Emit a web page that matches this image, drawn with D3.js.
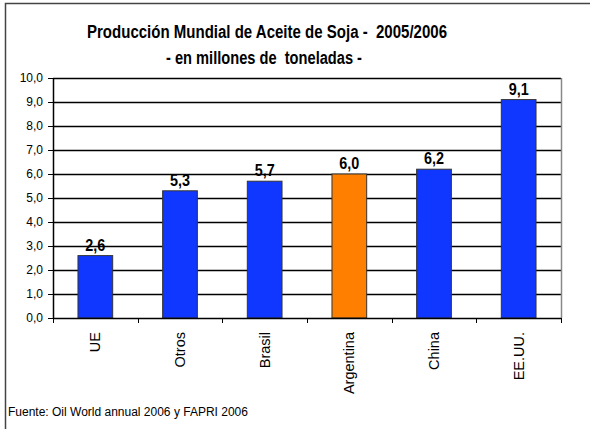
<!DOCTYPE html>
<html>
<head>
<meta charset="utf-8">
<script src="https://cdn.jsdelivr.net/npm/d3@7"></script>
<style>
  body { margin: 0; background: #fff; }
  svg { display: block; font-family: "Liberation Sans", Arial, sans-serif; }
  text { white-space: pre; }
</style>
</head>
<body>
<script>
// data
var categories = ["UE", "Otros", "Brasil", "Argentina", "China", "EE.UU."];
var values = [2.6, 5.3, 5.7, 6.0, 6.2, 9.1];
var highlight = "Argentina";
var yTicks = [0, 1, 2, 3, 4, 5, 6, 7, 8, 9, 10];

var W = 590, H = 429;
var margin = { top: 78, right: 29, bottom: 111, left: 53 },
    width = W - margin.left - margin.right,
    height = H - margin.top - margin.bottom;

var svg = d3.select("body").append("svg")
    .attr("width", W)
    .attr("height", H);

// outer frame (only left/top visible)
svg.append("path")
    .attr("d", "M5.5,429 V3.5 H590")
    .attr("fill", "none")
    .attr("stroke", "#444")
    .attr("stroke-width", 1.5);

// titles
svg.append("text")
    .attr("x", 87).attr("y", 38)
    .attr("textLength", 360).attr("lengthAdjust", "spacingAndGlyphs")
    .style("font-weight", "bold").style("font-size", "17.5px")
    .text("Producción Mundial de Aceite de Soja -  2005/2006");
svg.append("text")
    .attr("x", 166).attr("y", 64)
    .attr("textLength", 196).attr("lengthAdjust", "spacingAndGlyphs")
    .style("font-weight", "bold").style("font-size", "17.5px")
    .text("- en millones de  toneladas -");

var g = svg.append("g")
    .attr("transform", "translate(" + margin.left + "," + margin.top + ")");

var x = d3.scaleBand()
    .domain(categories)
    .range([0, width])
    .paddingInner(0.59)
    .paddingOuter(0.295);

var y = d3.scaleLinear()
    .domain([0, 10])
    .range([height, 0]);

// gridlines
g.append("g")
  .selectAll("line")
  .data(yTicks.slice(1))
  .enter().append("line")
    .attr("x1", 0).attr("x2", width)
    .attr("y1", function(d) { return Math.round(y(d)) + 0.5; })
    .attr("y2", function(d) { return Math.round(y(d)) + 0.5; })
    .attr("stroke", "#000")
    .attr("stroke-width", 1.5);

// right border of plot
g.append("line")
    .attr("x1", width + 0.5).attr("x2", width + 0.5)
    .attr("y1", 0).attr("y2", height)
    .attr("stroke", "#888").attr("stroke-width", 1.5);

// bars
g.selectAll("rect.bar")
  .data(categories)
  .enter().append("rect")
    .attr("class", "bar")
    .attr("x", function(d) { return x(d); })
    .attr("y", function(d, i) { return y(values[i]); })
    .attr("width", x.bandwidth())
    .attr("height", function(d, i) { return height - y(values[i]); })
    .attr("fill", function(d) { return d === highlight ? "#FF8000" : "#0F37FF"; })
    .attr("stroke", "#333")
    .attr("stroke-width", 1);

// value labels
g.selectAll("text.val")
  .data(categories)
  .enter().append("text")
    .attr("class", "val")
    .attr("x", function(d) { return x(d) + x.bandwidth() / 2 - 10; })
    .attr("y", function(d, i) { return y(values[i]) - 5; })
    .attr("textLength", 20).attr("lengthAdjust", "spacingAndGlyphs")
    .style("font-weight", "bold").style("font-size", "16px")
    .text(function(d, i) { return d3.format(".1f")(values[i]).replace(".", ","); });

// y axis
var yAxis = g.append("g")
    .call(d3.axisLeft(y).tickValues(yTicks).tickSize(5).tickSizeOuter(0)
      .tickFormat(function(d) { return d3.format(".1f")(d).replace(".", ","); }));
yAxis.select(".domain").attr("stroke", "#000").attr("stroke-width", 1.5);
yAxis.selectAll(".tick line").attr("stroke", "#000");
yAxis.selectAll(".tick text")
    .attr("x", -10)
    .style("font-size", "12px").style("font-family", "'Liberation Sans', Arial, sans-serif")
    .attr("fill", "#000");

// x axis with ticks at category boundaries
var xAxisG = g.append("g")
    .attr("transform", "translate(0," + height + ")");
xAxisG.append("line")
    .attr("x1", 0).attr("x2", width)
    .attr("y1", 0.5).attr("y2", 0.5)
    .attr("stroke", "#000").attr("stroke-width", 1.5);
var step = x.step();
xAxisG.selectAll("line.tk")
  .data(d3.range(categories.length + 1))
  .enter().append("line")
    .attr("class", "tk")
    .attr("x1", function(i) { return Math.round(i * step) + 0.5; })
    .attr("x2", function(i) { return Math.round(i * step) + 0.5; })
    .attr("y1", 0).attr("y2", 5)
    .attr("stroke", "#000");

xAxisG.selectAll("text.cat")
  .data(categories)
  .enter().append("text")
    .attr("class", "cat")
    .attr("transform", function(d) {
      return "translate(" + (x(d) + x.bandwidth() / 2 + 5) + ",14) rotate(-90)";
    })
    .attr("text-anchor", "end")
    .style("font-size", "14.5px")
    .text(function(d) { return d; });

// source
svg.append("text")
    .attr("x", 8).attr("y", 416)
    .style("font-size", "12px")
    .text("Fuente: Oil World annual 2006 y FAPRI 2006");
</script>
</body>
</html>
